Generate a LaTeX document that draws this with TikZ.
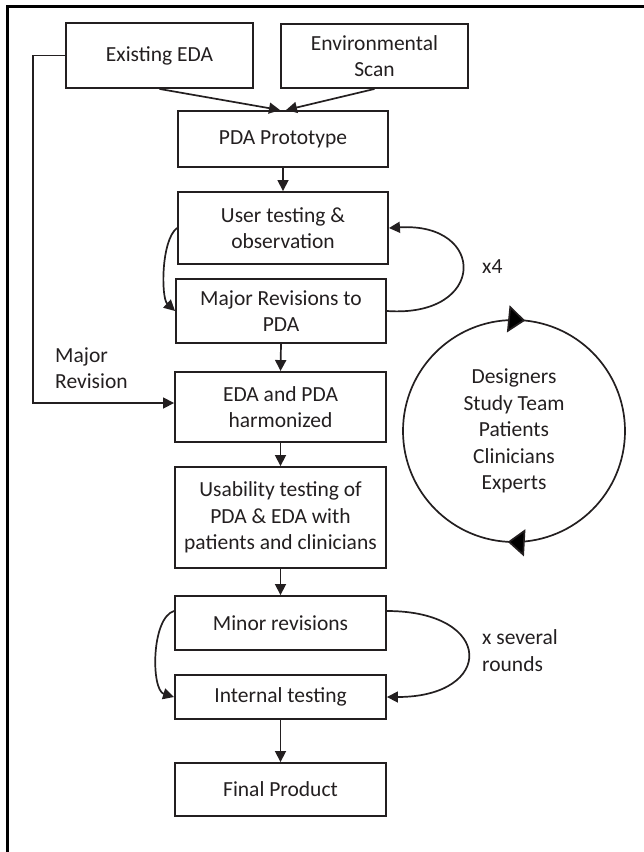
\documentclass[tikz,border=0pt]{standalone}
\usepackage{fontspec}
\setmainfont{Carlito}
\usetikzlibrary{arrows.meta,decorations.markings}
\definecolor{ink}{HTML}{231F20}
\begin{document}
\begin{tikzpicture}[x=1pt,y=-1pt,
  every node/.style={font=\fontsize{21.5}{26.5}\selectfont, text=ink},
  box/.style={draw=ink, line width=1.9pt, rectangle, inner sep=0pt, align=center},
  conn/.style={draw=ink, line width=1.7pt, -{Triangle[length=11pt,width=11pt]}},
  lbl/.style={align=left, anchor=west, inner sep=0pt},
  bigtip/.style={postaction={decorate, decoration={markings,
      mark=at position 0.234 with {\arrowreversed{Triangle[length=17pt,width=27pt]}},
      mark=at position 0.741 with {\arrowreversed{Triangle[length=17pt,width=27pt]}}}}}]
\useasboundingbox (0,0) rectangle (644,852);
\draw[line width=2.5pt, black] (7.5,852) -- (7.5,6.5) -- (644,6.5);

\node[box, minimum width=187pt, minimum height=65pt] (eda) at (159.5,55.5) {Existing EDA};
\node[box, minimum width=187pt, minimum height=64pt] (env) at (374.5,56) {Environmental\\Scan};
\node[box, minimum width=210pt, minimum height=56pt] (proto) at (283,139) {PDA Prototype};
\node[box, minimum width=210pt, minimum height=72pt] (user) at (283,228) {User testing \&\\observation};
\node[box, minimum width=210pt, minimum height=64pt] (major) at (281,311) {Major Revisions to\\PDA};
\node[box, minimum width=211pt, minimum height=70pt] (harm) at (280.5,407) {EDA and PDA\\harmonized};
\node[box, minimum width=211pt, minimum height=101pt] (usab) at (280.5,517.5) {Usability testing of\\PDA \& EDA with\\patients and clinicians};
\node[box, minimum width=211pt, minimum height=54pt] (minor) at (280.5,623) {Minor revisions};
\node[box, minimum width=211pt, minimum height=44pt] (internal) at (280.5,697) {Internal testing};
\node[box, minimum width=211pt, minimum height=53pt] (final) at (280.5,789.5) {Final Product};

\node[circle, draw=ink, line width=1.7pt, minimum size=222pt, inner sep=0pt, align=center, bigtip] (team) at (514,431)
  {Designers\\Study Team\\Patients\\Clinicians\\Experts};

\draw[conn] (eda.south) -- ([xshift=-3pt]proto.north);
\draw[conn] (env.south) -- ([xshift=3pt]proto.north);
\draw[conn] (proto.south) -- (user.north);
\draw[conn] (major.south) -- (harm.north);
\draw[conn] (harm.south) -- (usab.north);
\draw[conn] (usab.south) -- (minor.north);
\draw[conn] (internal.south) -- (final.north);

\draw[conn] (user.west) .. controls (161,240) and (161,298) .. (major.west);
\draw[conn] (major.east) .. controls (487,318) and (487,222) .. (user.east);
\draw[conn] ([yshift=12pt]minor.west) .. controls (151,618) and (151,690) .. (internal.west);
\draw[conn] ([yshift=12pt]minor.east) .. controls (495,611) and (495,697) .. (internal.east);

\coordinate (mr) at (33,55.5);
\draw[conn] (eda.west) -- (mr) |- ([yshift=4pt]harm.west);

\node[lbl] (x4) at (482,267) {x4};
\node[lbl] (xsev) at (482,650.5) {x several\\rounds};
\node[lbl] (mrl) at (55,368) {Major\\Revision};
\end{tikzpicture}
\end{document}
